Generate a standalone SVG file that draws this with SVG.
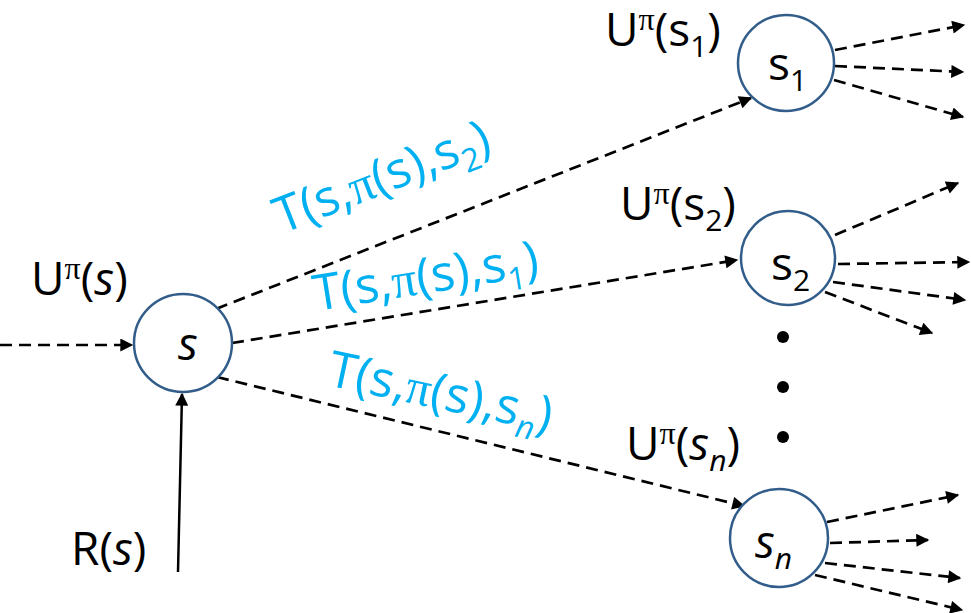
<svg xmlns="http://www.w3.org/2000/svg" width="971" height="613" viewBox="0 0 971 613">
<style>
  text { font-family: "Open Sans", "Liberation Sans", sans-serif; font-size: 46px; fill: #000; }
  .blue { fill: #00B0F0; font-size: 50px; }
  .pi { font-family: "Liberation Serif", "DejaVu Serif", serif; }
  .sup { font-family: "Liberation Serif", "DejaVu Serif", serif; font-size: 32px; }
  .sub { font-size: 30px; }
  .blue .sub { font-size: 32px; }
  .it { font-style: italic; }
  .node { fill: #fff; stroke: #325D8A; stroke-width: 2.5; }
  .dash { stroke: #000; stroke-width: 2.7; stroke-dasharray: 12 7; fill: none; marker-end: url(#ah); }
  .solid { stroke: #000; stroke-width: 2.5; fill: none; marker-end: url(#ah); }
</style>
<defs>
  <marker id="ah" viewBox="0 0 10 10" refX="9" refY="5" markerWidth="16" markerHeight="13" markerUnits="userSpaceOnUse" orient="auto">
    <path d="M0,0 L10,5 L0,10 z" fill="#000"/>
  </marker>
</defs>
<rect width="971" height="613" fill="#fff"/>
<g id="connectors">
  <line class="dash" x1="0" y1="345" x2="132" y2="345"/>
  <line class="solid" x1="178" y1="572" x2="182" y2="394"/>
  <line class="dash" x1="216" y1="309" x2="751" y2="98"/>
  <line class="dash" x1="232" y1="343" x2="737" y2="260"/>
  <line class="dash" x1="217" y1="377" x2="744" y2="506"/>
  <line class="dash" x1="835" y1="50" x2="964" y2="25"/>
  <line class="dash" x1="835" y1="66" x2="963" y2="72"/>
  <line class="dash" x1="834" y1="80" x2="963" y2="117"/>
  <line class="dash" x1="835" y1="235" x2="958" y2="183"/>
  <line class="dash" x1="838" y1="264" x2="969" y2="262"/>
  <line class="dash" x1="833" y1="282" x2="965" y2="300"/>
  <line class="dash" x1="825" y1="292" x2="932" y2="333"/>
  <line class="dash" x1="827" y1="522" x2="958" y2="495"/>
  <line class="dash" x1="830" y1="543" x2="928" y2="540"/>
  <line class="dash" x1="825" y1="563" x2="960" y2="578"/>
  <line class="dash" x1="815" y1="575" x2="962" y2="610"/>
</g>
<g id="node-s">
  <circle class="node" cx="183" cy="343" r="49"/>
  <text class="it" x="178" y="360">s</text>
</g>
<g id="node-s1">
  <circle class="node" cx="786" cy="63" r="48"/>
  <text x="768" y="80">s<tspan class="sub" dy="11">1</tspan></text>
</g>
<g id="node-s2">
  <circle class="node" cx="788" cy="258" r="47"/>
  <text x="771" y="280">s<tspan class="sub" dy="11">2</tspan></text>
</g>
<g id="node-sn">
  <circle class="node" cx="779" cy="538" r="49"/>
  <text class="it" x="755" y="558">s<tspan class="sub" dy="11">n</tspan></text>
</g>
<g id="dots">
  <circle cx="783" cy="337" r="6" fill="#000"/>
  <circle cx="783" cy="387" r="6" fill="#000"/>
  <circle cx="783" cy="437" r="6" fill="#000"/>
</g>
<g id="labels">
  <text x="31" y="295">U<tspan class="sup" dy="-16">π</tspan><tspan dy="16">(</tspan><tspan class="it">s</tspan>)</text>
  <text x="605" y="46">U<tspan class="sup" dy="-16">π</tspan><tspan dy="16">(s</tspan><tspan class="sub" dy="11">1</tspan><tspan dy="-11">)</tspan></text>
  <text x="620" y="220">U<tspan class="sup" dy="-16">π</tspan><tspan dy="16">(s</tspan><tspan class="sub" dy="11">2</tspan><tspan dy="-11">)</tspan></text>
  <text x="626" y="460">U<tspan class="sup" dy="-16">π</tspan><tspan dy="16">(</tspan><tspan class="it">s</tspan><tspan class="sub it" dy="11">n</tspan><tspan dy="-11">)</tspan></text>
  <text x="71" y="565">R(<tspan class="it">s</tspan>)</text>
  <text class="blue" x="282" y="234" transform="rotate(-21.4 282 234)">T(s,<tspan class="pi">π</tspan>(s),s<tspan class="sub" dy="11">2</tspan><tspan dy="-11">)</tspan></text>
  <text class="blue" x="316" y="311" transform="rotate(-9.1 316 311)">T(s,<tspan class="pi">π</tspan>(s),s<tspan class="sub" dy="11">1</tspan><tspan dy="-11">)</tspan></text>
  <text class="blue" x="326" y="385" transform="rotate(12 326 385)">T(s,<tspan class="pi">π</tspan>(s),s<tspan class="sub it" dy="11">n</tspan><tspan dy="-11">)</tspan></text>
</g>
</svg>
